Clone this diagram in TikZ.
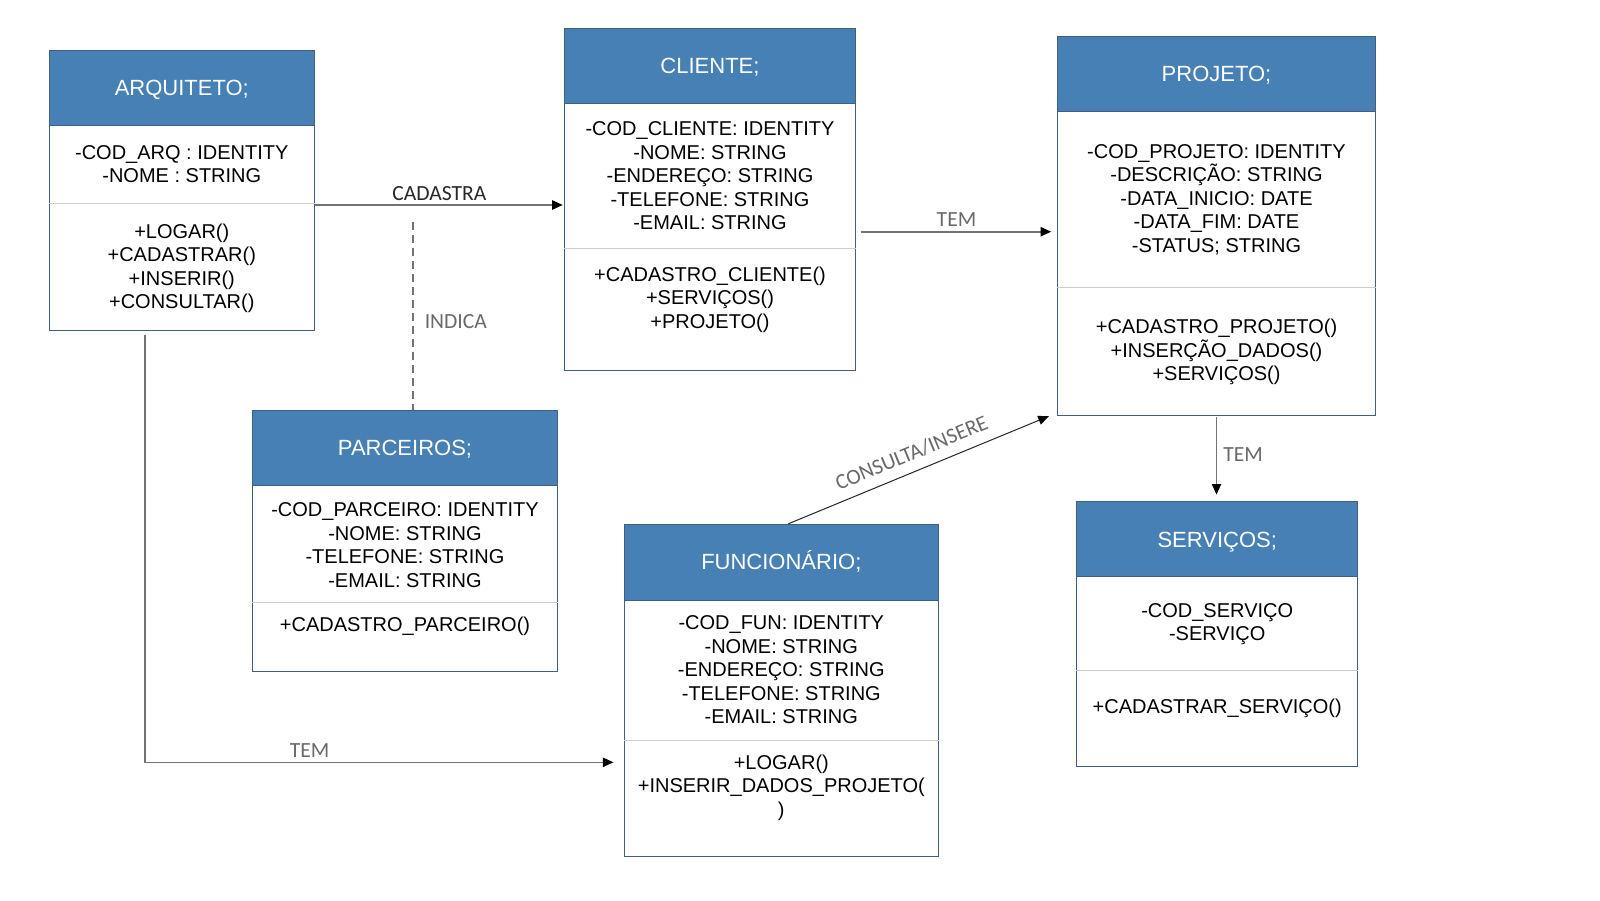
\documentclass[tikz,border=0pt]{standalone}
\usepackage{fontspec}
\setmainfont{Liberation Sans}
\newfontfamily\labfont{Carlito}
\usetikzlibrary{arrows.meta,fit}
\definecolor{headblue}{RGB}{70,128,180}
\definecolor{boxborder}{RGB}{65,95,125}
\definecolor{divgray}{RGB}{205,205,205}
\definecolor{linegray}{RGB}{115,115,115}
\definecolor{labgray}{RGB}{105,105,105}
\definecolor{labdark}{RGB}{40,40,40}
\tikzset{
  boxbody/.style={draw=boxborder,line width=0.5pt,fill=white,inner sep=0pt},
  boxhead/.style={draw=boxborder,line width=0.5pt,fill=headblue,inner sep=0pt},
  boxtitle/.style={text=white,font=\fontsize{11}{13}\selectfont,inner sep=0pt,anchor=base},
  boxtext/.style={text=black,align=center,font=\fontsize{10}{11.75}\selectfont,inner sep=0pt},
  divline/.style={draw=divgray,line width=0.5pt},
  conn/.style={draw=linegray,line width=0.8pt,-{Triangle[length=5.3pt,width=4.6pt,color=black]}},
  thinconn/.style={draw=black!85,line width=0.5pt,-{Triangle[length=5.3pt,width=4.6pt,color=black]}},
  dashconn/.style={draw=linegray,line width=0.9pt,dash pattern=on 4pt off 2.5pt},
  lbl/.style={text=labgray,font=\labfont\fontsize{10.8}{12}\selectfont,inner sep=0pt},
  lbldark/.style={text=labdark,font=\labfont\fontsize{10.8}{12}\selectfont,inner sep=0pt}
}
\newcommand\umlbox[8]{%
  % #1 name, #2 left, #3 top, #4 right, #5 head bottom, #6 divider, #7 bottom, #8 title
  \node[boxbody,fit={(#2,#3) (#4,#7)}] (#1) {};
  \node[boxhead,fit={(#2,#3) (#4,#5)}] (#1H) {};
  \node[boxtitle] (#1T) at ([yshift=-3.9pt]#1H.center) {#8};
  \draw[divline] (#1.west |- 0,#6) -- (#1.east |- 0,#6);
}
\begin{document}
\begin{tikzpicture}[x=0.5pt,y=-0.5pt]
\useasboundingbox[fill=white] (0,0) rectangle (1600,900);

% ARQUITETO
\umlbox{arq}{49.3}{50}{314.3}{125}{203.3}{330}{ARQUITETO;}
\node[boxtext] (arqA) at (arq.center |- 0,164.3) {-COD\_ARQ : IDENTITY\\-NOME : STRING};
\node[boxtext] (arqM) at (arq.center |- 0,268.3) {+LOGAR()\\+CADASTRAR()\\+INSERIR()\\+CONSULTAR()};

% CLIENTE
\umlbox{cli}{564.3}{28.3}{855.7}{103.3}{248.3}{370}{CLIENTE;}
\node[boxtext] (cliA) at (cli.center |- 0,176) {-COD\_CLIENTE: IDENTITY\\-NOME: STRING\\-ENDEREÇO: STRING\\-TELEFONE: STRING\\-EMAIL: STRING};
\node[boxtext] (cliM) at (cli.center |- 0,299.5) {+CADASTRO\_CLIENTE()\\+SERVIÇOS()\\+PROJETO()};

% PROJETO
\umlbox{proj}{1057.3}{36.7}{1375.7}{111}{287.3}{415.7}{PROJETO;}
\node[boxtext] (projA) at (proj.center |- 0,199.3) {-COD\_PROJETO: IDENTITY\\-DESCRIÇÃO: STRING\\-DATA\_INICIO: DATE\\-DATA\_FIM: DATE\\-STATUS; STRING};
\node[boxtext] (projM) at (proj.center |- 0,352.2) {+CADASTRO\_PROJETO()\\+INSERÇÃO\_DADOS()\\+SERVIÇOS()};

% PARCEIROS
\umlbox{parc}{252.3}{410}{557.7}{485.7}{602.3}{671}{PARCEIROS;}
\node[boxtext] (parcA) at (parc.center |- 0,545) {-COD\_PARCEIRO: IDENTITY\\-NOME: STRING\\-TELEFONE: STRING\\-EMAIL: STRING};
\node[boxtext] (parcM) at (parc.center |- 0,626.7) {+CADASTRO\_PARCEIRO()};

% FUNCIONARIO
\umlbox{fun}{624.3}{524.3}{938.3}{600}{740.7}{856.7}{FUNCIONÁRIO;}
\node[boxtext] (funA) at (fun.center |- 0,670) {-COD\_FUN: IDENTITY\\-NOME: STRING\\-ENDEREÇO: STRING\\-TELEFONE: STRING\\-EMAIL: STRING};
\node[boxtext] (funM) at (fun.center |- 0,787.5) {+LOGAR()\\+INSERIR\_DADOS\_PROJETO(\\)};

% SERVICOS
\umlbox{serv}{1076.7}{501.7}{1357.7}{576.7}{670.7}{766}{SERVIÇOS;}
\node[boxtext] (servA) at (serv.center |- 0,624) {-COD\_SERVIÇO\\-SERVIÇO};
\node[boxtext] (servM) at (serv.center |- 0,708.3) {+CADASTRAR\_SERVIÇO()};

% connectors
\draw[conn,shorten >=0.5pt] (arq.east |- 0,205) -- node[lbldark,above=2pt] {CADASTRA} (cli.west |- 0,205);

\coordinate (indS) at (412.7,221.7);
\draw[dashconn] (indS) -- node[lbl,pos=0.53,right=5.6pt] {INDICA} (indS |- parc.north);

\draw[conn,shorten <=2.15pt,shorten >=2.8pt] (cli.east |- 0,231.7) -- node[lbl,above=2pt] {TEM} (proj.west |- 0,231.7);

\draw[conn,shorten <=0.5pt,shorten >=3.3pt] (proj.south) -- node[lbl,pos=0.45,right=3pt] {TEM} (proj.south |- serv.north);

\draw[thinconn] ([xshift=3.5pt]fun.north) -- node[lbl,sloped,pos=0.5,above=5pt] {CONSULTA/INSERE} ([xshift=-4pt]proj.south west);

\draw[conn,shorten <=2pt,shorten >=5.15pt] (arq.south -| 145,0) |- node[lbl,pos=0.672,above=2pt] {TEM} (fun.west |- 0,762.3);
\end{tikzpicture}
\end{document}
